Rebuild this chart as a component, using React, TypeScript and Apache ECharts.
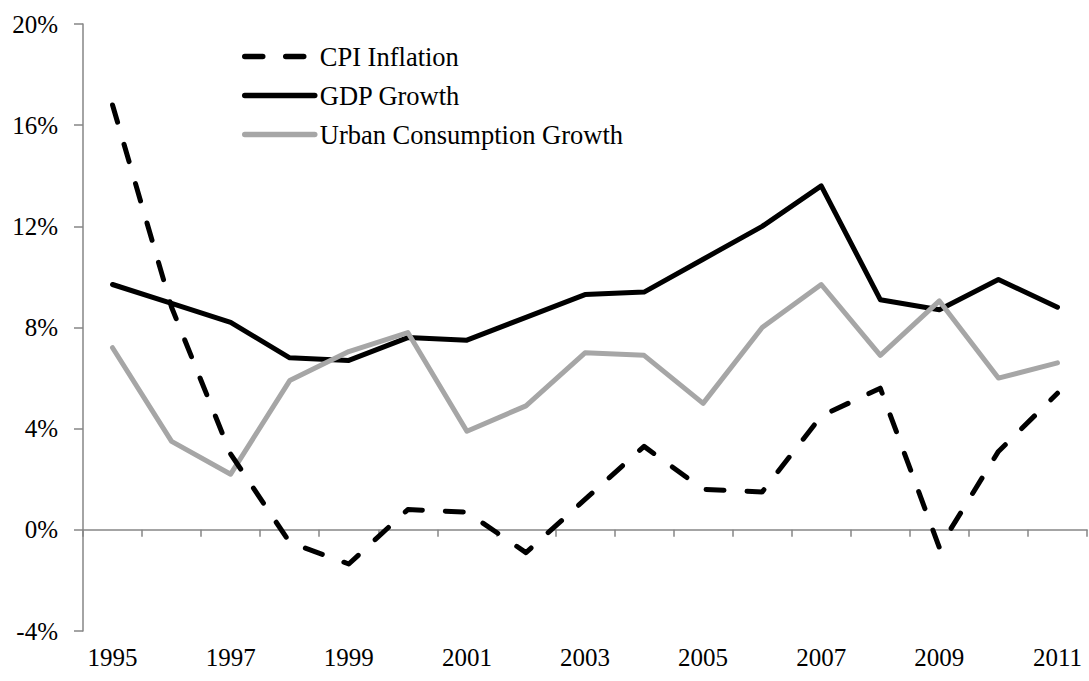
import React, { useEffect, useRef } from "react";
import * as echarts from "echarts";

const years = ["1995","1996","1997","1998","1999","2000","2001","2002","2003","2004","2005","2006","2007","2008","2009","2010","2011"];
const cpiInflation = [16.8, 8.8, 3.0, -0.5, -1.35, 0.8, 0.7, -0.9, 1.2, 3.3, 1.6, 1.5, 4.5, 5.6, -0.7, 3.1, 5.4];
const gdpGrowth = [9.7, 8.95, 8.2, 6.8, 6.7, 7.6, 7.5, 8.4, 9.3, 9.4, 10.7, 12.0, 13.6, 9.1, 8.7, 9.9, 8.8];
const urbanConsumption = [7.2, 3.5, 2.2, 5.9, 7.05, 7.8, 3.9, 4.9, 7.0, 6.9, 5.0, 8.0, 9.7, 6.9, 9.05, 6.0, 6.6];
const seriesNames = ["CPI Inflation", "GDP Growth", "Urban Consumption Growth"];

const FONT = "'Liberation Serif', 'Times New Roman', serif";
const AXIS_GREY = "#868686";
const CPI_DASH = [18, 23];

export default function App() {
  const ref = useRef<HTMLDivElement>(null);
  useEffect(() => {
    if (!ref.current) return;
    const chart = echarts.init(ref.current, undefined, { renderer: "svg" });
    chart.setOption({
      animation: false,
      backgroundColor: "#ffffff",
      textStyle: { fontFamily: FONT },
      grid: { left: 83, right: 2, top: 24, bottom: 50, containLabel: false },
      legend: {
        orient: "vertical",
        left: 242,
        top: 43,
        padding: 0,
        itemWidth: 70,
        itemHeight: 26,
        itemGap: 12,
        itemStyle: { opacity: 0 },
        data: [
          { name: seriesNames[0], lineStyle: { color: "#000", width: 5.5, type: CPI_DASH, cap: "round" } },
          { name: seriesNames[1], lineStyle: { color: "#000", width: 5.5, cap: "round" } },
          { name: seriesNames[2], lineStyle: { color: "#A6A6A6", width: 5.5, cap: "round" } },
        ],
        textStyle: { fontFamily: FONT, fontSize: 26.5, color: "#000", lineHeight: 26 },
      },
      xAxis: [
        {
          type: "category",
          data: years,
          position: "bottom",
          boundaryGap: true,
          axisLine: { onZero: true, lineStyle: { color: AXIS_GREY, width: 1.5 } },
          axisTick: { show: true, interval: 0, length: 7, inside: false, lineStyle: { color: AXIS_GREY, width: 1.5 } },
          axisLabel: { show: false },
          splitLine: { show: false },
        },
        {
          type: "category",
          data: years,
          position: "bottom",
          boundaryGap: true,
          axisLine: { show: false, onZero: false },
          axisTick: { show: false },
          axisLabel: { show: true, interval: 1, margin: 14, fontFamily: FONT, fontSize: 25, color: "#000" },
          splitLine: { show: false },
        },
      ],
      yAxis: {
        type: "value",
        min: -4,
        max: 20,
        interval: 4,
        axisLine: { show: true, lineStyle: { color: AXIS_GREY, width: 1.5 } },
        axisTick: { show: true, length: 9, lineStyle: { color: AXIS_GREY, width: 1.5 } },
        axisLabel: { formatter: "{value}%", margin: 25, fontFamily: FONT, fontSize: 25, color: "#000" },
        splitLine: { show: false },
      },
      series: [
        {
          name: seriesNames[0],
          type: "line",
          data: cpiInflation,
          xAxisIndex: 0,
          symbol: "none",
          lineStyle: { color: "#000", width: 5, type: CPI_DASH, cap: "round", join: "round" },
          itemStyle: { color: "#000" },
          z: 3,
        },
        {
          name: seriesNames[1],
          type: "line",
          data: gdpGrowth,
          xAxisIndex: 0,
          symbol: "none",
          lineStyle: { color: "#000", width: 5, cap: "round", join: "round" },
          itemStyle: { color: "#000" },
          z: 2,
        },
        {
          name: seriesNames[2],
          type: "line",
          data: urbanConsumption,
          xAxisIndex: 0,
          symbol: "none",
          lineStyle: { color: "#A6A6A6", width: 5, cap: "round", join: "round" },
          itemStyle: { color: "#A6A6A6" },
          z: 2,
        },
      ],
    });
    return () => chart.dispose();
  }, []);
  return (
    <div
      ref={ref}
      style={{ position: "absolute", left: 0, top: 0, width: 1089, height: 681, background: "#fff" }}
    />
  );
}
